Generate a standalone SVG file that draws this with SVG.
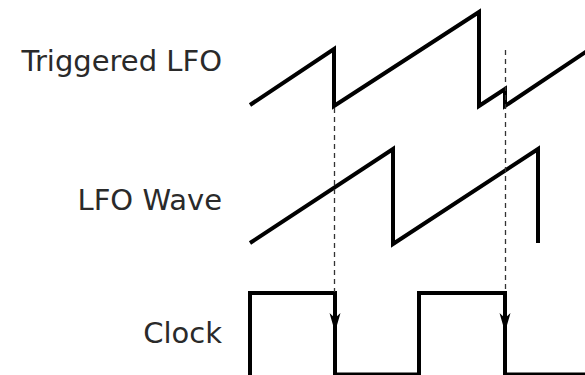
<svg xmlns="http://www.w3.org/2000/svg" width="585" height="375" viewBox="0 0 585 375">
<defs>
<style>
.lbl{font-family:"DejaVu Sans",Verdana,sans-serif;font-size:29px;fill:#2a2a2a;text-anchor:end}
.wave{fill:none;stroke:#000;stroke-width:4;stroke-linejoin:miter;stroke-miterlimit:10}
.dash{fill:none;stroke:#333;stroke-width:1.3;stroke-dasharray:5,4}
.head{fill:#000}
</style>
</defs>
<rect width="585" height="375" fill="#fff"/>
<g id="labels">
<text class="lbl" x="222" y="71">Triggered LFO</text>
<text class="lbl" x="222" y="210">LFO Wave</text>
<text class="lbl" x="222" y="343">Clock</text>
</g>
<g id="triggered-lfo">
<path class="wave" d="M250,105 L334,49 L334,106 L479,12 L479,106 L505,89 L505,106 L590,49"/>
</g>
<g id="lfo-wave">
<path class="wave" d="M250,243 L393,149 L393,244 L538,149 L538,243"/>
</g>
<g id="clock">
<path class="wave" d="M250,378 L250,293 L335,293 L335,374.5 L419,374.5 L419,293 L505,293 L505,374.5 L590,374.5"/>
</g>
<g id="connectors">
<path class="dash" d="M334.5,108 L334.5,292"/>
<path class="dash" d="M505.5,50 L505.5,292"/>
<path class="head" d="M329.5,313 L335,318 L340.5,313 L335,332 Z"/>
<path class="head" d="M499.5,313 L505,318 L510.5,313 L505,332 Z"/>
</g>
</svg>
